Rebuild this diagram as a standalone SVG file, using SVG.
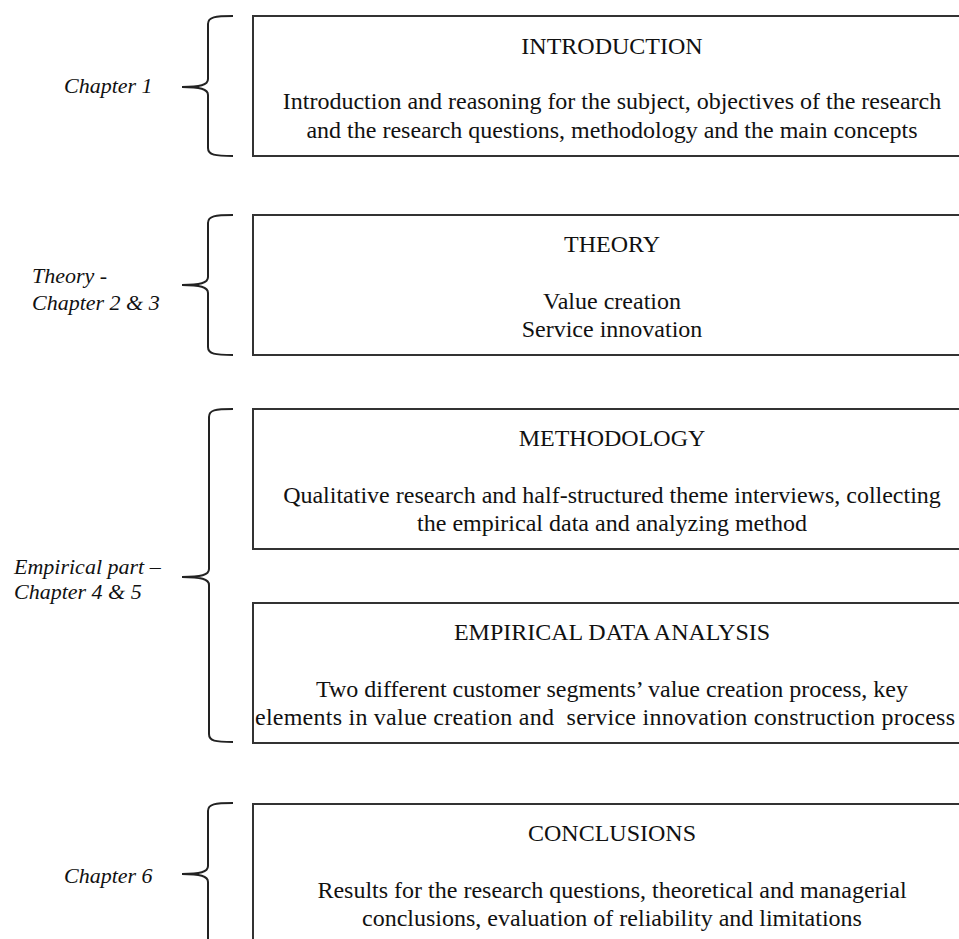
<svg xmlns="http://www.w3.org/2000/svg" width="959" height="939" viewBox="0 0 959 939">
<style>
.box{fill:#fff;stroke:#333;stroke-width:2}
.brace{fill:none;stroke:#222;stroke-width:2}
.t{font-family:"Liberation Serif","Times New Roman",serif;font-size:24px;fill:#111;text-anchor:middle}
.l{font-family:"Liberation Serif","Times New Roman",serif;font-size:22px;font-style:italic;fill:#111}
</style>
<rect width="959" height="939" fill="#fff"/>
<g id="connectors">
<path class="brace" d="M233,16 C215,16 208,17 208,24 L208,79 C208,85 200,87 182,87 C200,87 208,89 208,95 L208,148 C208,155 215,156 233,156"/>
<path class="brace" d="M233,215 C215,215 208,216 208,223 L208,277 C208,283 200,285 182,285 C200,285 208,287 208,293 L208,347 C208,354 215,355 233,355"/>
<path class="brace" d="M233,409 C215,409 209,410 209,417 L209,569 C209,575 201,577 182,577 C201,577 209,579 209,585 L209,734 C209,741 215,742 233,742"/>
<path class="brace" d="M233,803 C215,803 208,804 208,811 L208,866 C208,872 200,874 182,874 C200,874 208,876 208,882 L208,945"/>
</g>
<g id="label1"><text class="l" x="64" y="93">Chapter 1</text></g>
<g id="label2"><text class="l" x="32" y="283">Theory -</text><text class="l" x="32" y="310">Chapter 2 &amp; 3</text></g>
<g id="label3"><text class="l" x="14" y="574">Empirical part –</text><text class="l" x="14" y="599">Chapter 4 &amp; 5</text></g>
<g id="label4"><text class="l" x="64" y="883">Chapter 6</text></g>
<g id="introduction">
<rect class="box" x="253" y="16" width="720" height="140"/>
<text class="t" x="612" y="54">INTRODUCTION</text>
<text class="t" x="612" y="109">Introduction and reasoning for the subject, objectives of the research</text>
<text class="t" x="612" y="138">and the research questions, methodology and the main concepts</text>
</g>
<g id="theory">
<rect class="box" x="253" y="215" width="720" height="140"/>
<text class="t" x="612" y="252">THEORY</text>
<text class="t" x="612" y="309">Value creation</text>
<text class="t" x="612" y="337">Service innovation</text>
</g>
<g id="methodology">
<rect class="box" x="253" y="409" width="720" height="140"/>
<text class="t" x="612" y="446">METHODOLOGY</text>
<text class="t" x="612" y="503">Qualitative research and half-structured theme interviews, collecting</text>
<text class="t" x="612" y="531">the empirical data and analyzing method</text>
</g>
<g id="empirical">
<rect class="box" x="253" y="603" width="720" height="140"/>
<text class="t" x="612" y="640">EMPIRICAL DATA ANALYSIS</text>
<text class="t" x="612" y="697">Two different customer segments’ value creation process, key</text>
<text class="t" x="605" y="725" textLength="700" lengthAdjust="spacing" xml:space="preserve">elements in value creation and  service innovation construction process</text>
</g>
<g id="conclusions">
<rect class="box" x="253" y="804" width="720" height="160"/>
<text class="t" x="612" y="841">CONCLUSIONS</text>
<text class="t" x="612" y="898">Results for the research questions, theoretical and managerial</text>
<text class="t" x="612" y="926">conclusions, evaluation of reliability and limitations</text>
</g>
</svg>
